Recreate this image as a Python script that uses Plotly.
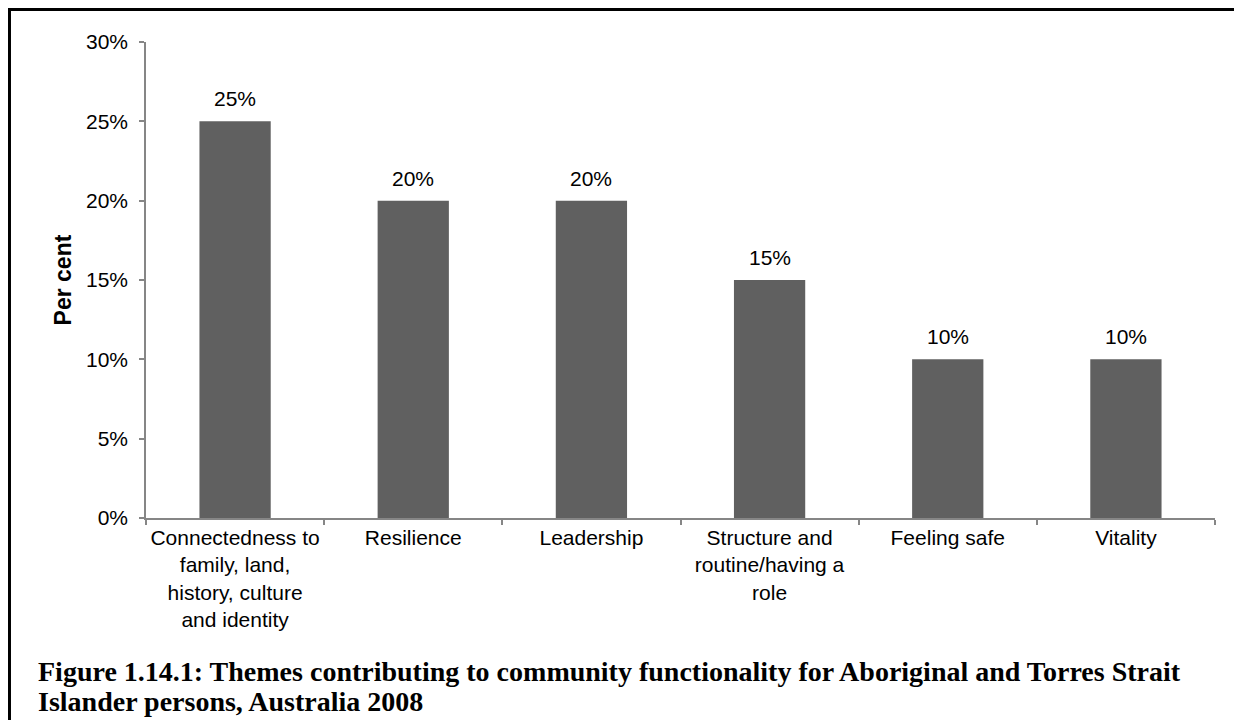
import plotly.graph_objects as go

categories = [
    "Connectedness to<br>family, land,<br>history, culture<br>and identity",
    "Resilience",
    "Leadership",
    "Structure and<br>routine/having a<br>role",
    "Feeling safe",
    "Vitality",
]
shares = [0.25, 0.20, 0.20, 0.15, 0.10, 0.10]
y_ticks = [0, 0.05, 0.10, 0.15, 0.20, 0.25, 0.30]

caption_lines = [
    "Figure 1.14.1: Themes contributing to community functionality for Aboriginal and Torres Strait",
    "Islander persons, Australia 2008",
]

axis_grey = "#868686"
sans = "Liberation Sans, Arial, sans-serif"
serif = "Liberation Serif, Times New Roman, serif"

fig = go.Figure()
fig.add_trace(go.Bar(
    x=categories,
    y=shares,
    marker=dict(color="#606060", line=dict(width=0)),
    hoverinfo="x+y",
))

# value labels sit a little above each bar
for cat, val in zip(categories, shares):
    fig.add_annotation(
        x=cat, y=val, text=f"{val:.0%}",
        yanchor="bottom", yshift=9, showarrow=False,
        font=dict(family=sans, size=21, color="black"),
    )

fig.update_layout(
    width=1242, height=720,
    margin=dict(l=138, r=35, t=34, b=210),
    paper_bgcolor="white", plot_bgcolor="white",
    bargap=0.6,
    showlegend=False,
    font=dict(family=sans, size=21, color="black"),
)

fig.update_yaxes(
    range=[0, 0.30],
    tickvals=y_ticks,
    tickformat=".0%",
    showgrid=False, zeroline=False,
    showline=True, linecolor=axis_grey, linewidth=1.5,
    ticks="outside", ticklen=5, tickcolor=axis_grey, tickwidth=1.5,
    ticklabelstandoff=7,
    tickfont=dict(size=21, color="black"),
    title=dict(text="<b>Per cent</b>", font=dict(size=23, color="black"), standoff=8),
)

fig.update_xaxes(
    showgrid=False,
    showline=True, linecolor=axis_grey, linewidth=1.5,
    ticks="outside", ticklen=5, tickcolor=axis_grey, tickwidth=1.5,
    tickson="boundaries",
    tickangle=0,
    tickfont=dict(size=21, color="black"),
)

# caption under the chart, one annotation per line to keep the tight spacing
for i, line in enumerate(caption_lines):
    fig.add_annotation(
        text="<b>" + line + "</b>",
        xref="paper", yref="paper",
        x=-0.103, y=-0.3235 - 0.063 * i,
        xanchor="left", yanchor="middle", align="left",
        showarrow=False,
        font=dict(family=serif, size=28, color="black"),
    )

# frame round the figure (top and left edges visible)
fig.add_shape(type="line", xref="paper", yref="paper",
              x0=-0.2, x1=1.1, y0=1.0683, y1=1.0683,
              line=dict(color="black", width=3))
fig.add_shape(type="line", xref="paper", yref="paper",
              x0=-0.1277, x1=-0.1277, y0=-0.45, y1=1.08,
              line=dict(color="black", width=3))

fig.write_html("out.html")
